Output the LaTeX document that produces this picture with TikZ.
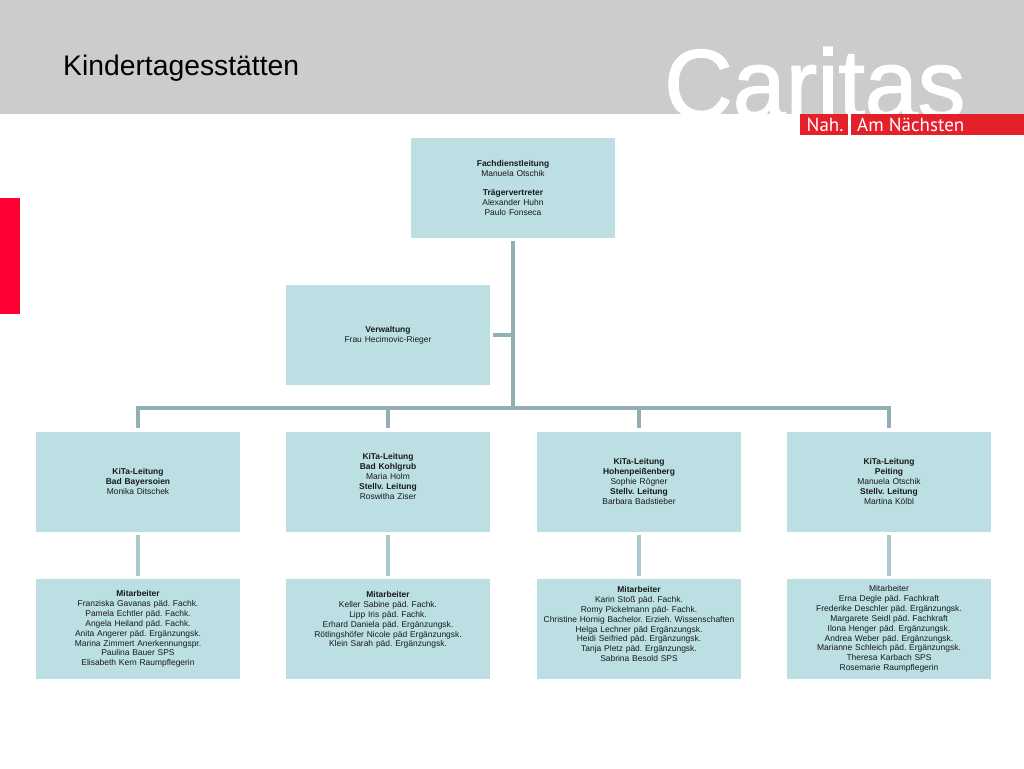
\documentclass[tikz,border=0pt]{standalone}
\usepackage{fontspec}
\setmainfont{Liberation Sans}
\newfontfamily\logofont{PT Sans}
\newfontfamily\caritasfont[FakeBold=1.4,FakeStretch=0.97]{Liberation Sans}
\definecolor{boxblue}{HTML}{BBDFE3}
\definecolor{trunkgrey}{HTML}{92B0B3}
\definecolor{droplight}{HTML}{A9C8CD}
\definecolor{headgrey}{HTML}{CCCCCC}
\definecolor{bandred}{HTML}{E4202B}
\definecolor{markred}{HTML}{FF0033}
\begin{document}
\frenchspacing
\begin{tikzpicture}[
            x=1pt, y=-1pt,
            orgbox/.style={rectangle, fill=boxblue, minimum width=204pt, minimum height=100pt,
                inner sep=0pt, align=center, text width=204pt, text=black!90,
                font=\fontsize{8.45}{9.9}\selectfont},
            trunk/.style={draw=trunkgrey, line width=3.2pt},
            droplink/.style={draw=droplight, line width=3.2pt, shorten >=3pt, shorten <=3pt},
            logotext/.style={inner sep=0pt, text=white, font=\logofont\fontsize{19}{19}\selectfont, anchor=base west}
            ]
            \useasboundingbox (0,0) rectangle (1024,768);

            % header
            \fill[headgrey] (0,0) rectangle (1024,114);
            \fill[markred] (0,198) rectangle (20,314);
            \node[inner sep=0pt, anchor=base west, font=\fontsize{28.3}{28.3}\selectfont] (title) at (63,75) {Kindertagesstätten};
            \node[inner sep=0pt, anchor=base west, text=white, font=\caritasfont\fontsize{98}{98}\selectfont] (caritas) at (664,118) {Caritas};
            \fill[bandred] (800,114) rectangle (1024,135);
            \fill[white] (848,114) rectangle (851,135);
            \node[logotext] (nah) at (806.5,131) {Nah.};
            \node[logotext] (naechsten) at (857,131) {Am Nächsten};

            % top
            \node[orgbox] (fachdienst) at (513,188) {\textbf{Fachdienstleitung}\\Manuela Otschik\\~\\\textbf{Trägervertreter}\\Alexander Huhn\\Paulo Fonseca};
            \node[orgbox] (verwaltung) at (388,335) {\textbf{Verwaltung}\\Frau Hecimovic-Rieger};

            % leaders
            \node[orgbox] (kita1) at (138,481.5) {\textbf{KiTa-Leitung}\\\textbf{Bad Bayersoien}\\Monika Ditschek};
            \node[orgbox] (kita2) at (388,481.5) {\textbf{KiTa-Leitung}\\\textbf{Bad Kohlgrub}\\Maria Holm\\\textbf{Stellv. Leitung}\\Roswitha Ziser\\~};
            \node[orgbox] (kita3) at (639,481.5) {\textbf{KiTa-Leitung}\\\textbf{Hohenpeißenberg}\\Sophie Rögner\\\textbf{Stellv. Leitung}\\Barbara Badstieber};
            \node[orgbox] (kita4) at (889,481.5) {\textbf{KiTa-Leitung}\\\textbf{Peiting}\\Manuela Otschik\\\textbf{Stellv. Leitung}\\Martina Kölbl};

            % staff
            \node[orgbox] (team1) at (138,629) {\textbf{Mitarbeiter}\\Franziska Gavanas päd. Fachk.\\Pamela Echtler päd. Fachk.\\Angela Heiland päd. Fachk.\\Anita Angerer päd. Ergänzungsk.\\Marina Zimmert Anerkennungspr.\\Paulina Bauer SPS\\Elisabeth Kern Raumpflegerin};
            \node[orgbox] (team2) at (388,629) {\textbf{Mitarbeiter}\\Keller Sabine päd. Fachk.\\Lipp Iris päd. Fachk.\\Erhard Daniela päd. Ergänzungsk.\\Rötlingshöfer Nicole päd Ergänzungsk.\\Klein Sarah päd. Ergänzungsk.\\~\\~};
            \node[orgbox] (team3) at (639,629) {\textbf{Mitarbeiter}\\Karin Stoß päd. Fachk.\\Romy Pickelmann päd- Fachk.\\Christine Hornig Bachelor. Erzieh. Wissenschaften\\Helga Lechner päd Ergänzungsk.\\Heidi Seifried päd. Ergänzungsk.\\Tanja Pletz päd. Ergänzungsk.\\Sabrina Besold SPS\\~};
            \node[orgbox] (team4) at (889,629) {Mitarbeiter\\Erna Degle päd. Fachkraft\\Frederike Deschler päd. Ergänzungsk.\\Margarete Seidl päd. Fachkraft\\Ilona Henger päd. Ergänzungsk.\\Andrea Weber päd. Ergänzungsk.\\Marianne Schleich päd. Ergänzungsk.\\Theresa Karbach SPS\\Rosemarie Raumpflegerin};

            \coordinate (bus) at (513,408);

            \draw[trunk, shorten <=3pt] (fachdienst) -- (bus);
            \draw[trunk, shorten <=3pt] (verwaltung) -- (verwaltung -| bus);

            \foreach \x in {1,2,3,4}{
                \draw[trunk, shorten >=3pt] (bus) -| (kita\x.north);
                \draw[droplink] (kita\x) -- (team\x);
            }
        \end{tikzpicture}
\end{document}
